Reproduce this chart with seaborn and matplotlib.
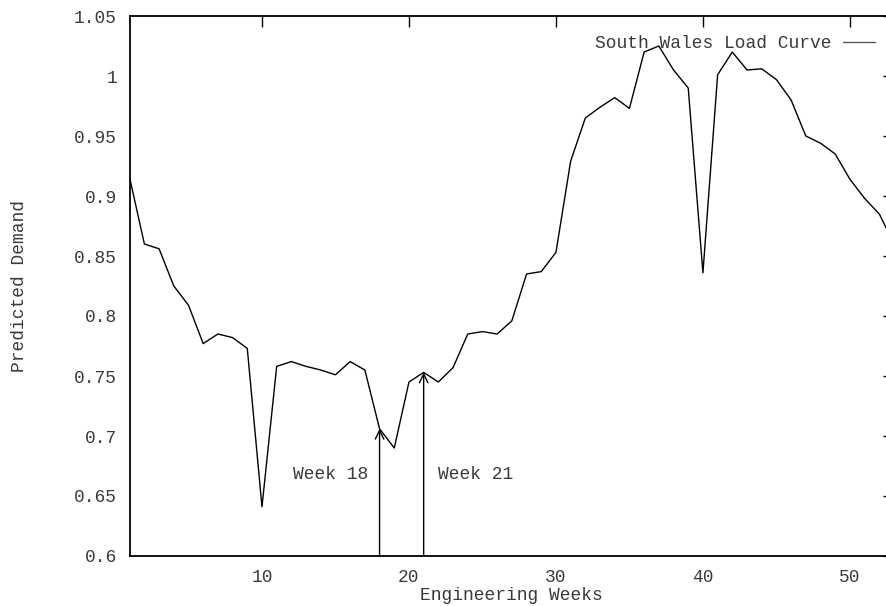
import numpy as np
import pandas as pd
import matplotlib
matplotlib.use("Agg")
import matplotlib.pyplot as plt
import seaborn as sns

# weekly predicted demand (normalised)
weeks = list(range(1, 54))
demand = [0.915, 0.860, 0.856, 0.825, 0.809, 0.777, 0.785, 0.782, 0.773, 0.641,
          0.758, 0.762, 0.758, 0.755, 0.751, 0.762, 0.755, 0.706, 0.690, 0.745,
          0.753, 0.745, 0.757, 0.785, 0.787, 0.785, 0.796, 0.835, 0.837, 0.853,
          0.929, 0.965, 0.974, 0.982, 0.973, 1.020, 1.025, 1.005, 0.990, 0.836,
          1.001, 1.020, 1.005, 1.006, 0.997, 0.980, 0.950, 0.944, 0.935, 0.914,
          0.898, 0.885, 0.860]
series_name = "South Wales Load Curve"
marked_weeks = [18, 21]
x_ticks = [10, 20, 30, 40, 50]
y_ticks = [0.6, 0.65, 0.7, 0.75, 0.8, 0.85, 0.9, 0.95, 1.0, 1.05]
y_tick_labels = ["0.6", "0.65", "0.7", "0.75", "0.8", "0.85", "0.9", "0.95", "1", "1.05"]

df = pd.DataFrame({"week": weeks, "demand": demand, "series": series_name})

sns.set_style("white")
plt.rcParams["font.family"] = ["Liberation Mono", "DejaVu Sans Mono"]
txt_col = "#3a3a3a"
fs = 12.9

W, H = 887, 606
fig = plt.figure(figsize=(W / 100, H / 100), dpi=100)
# gnuplot-like frame; right border runs just past the image edge
left, right, top, bottom = 129.7, 894.0, 16.0, 556.0
ax = fig.add_axes([left / W, (H - bottom) / H, (right - left) / W, (bottom - top) / H])

sns.lineplot(data=df, x="week", y="demand", hue="series", palette=["black"],
             linewidth=1.0, ax=ax)

ax.set_xlim(1, 53)
ax.set_ylim(0.6, 1.05)
ax.set_xticks(x_ticks)
ax.set_xticklabels([str(t) for t in x_ticks])
ax.set_yticks(y_ticks)
ax.set_yticklabels(y_tick_labels)
ax.tick_params(direction="in", length=8, width=1.0, top=True, right=True,
               labelsize=fs, labelcolor=txt_col, color="black")
ax.tick_params(axis="y", pad=9)
ax.tick_params(axis="x", pad=9)
for sp in ax.spines.values():
    sp.set_color("black")
    sp.set_linewidth(1.3)

ax.set_xlabel("Engineering Weeks", fontsize=fs, color=txt_col)
ax.set_ylabel("Predicted Demand", fontsize=fs, color=txt_col)
ax.xaxis.set_label_coords(0.5, -0.057)
ax.yaxis.set_label_coords(-0.133, 0.5)

# arrows from the axis up to the marked weeks
for wk in marked_weeks:
    ax.annotate("", xy=(wk, demand[wk - 1]), xytext=(wk, 0.6),
                arrowprops=dict(arrowstyle="->,head_length=0.45,head_width=0.22",
                                color="black", lw=1.0, shrinkA=0, shrinkB=0,
                                mutation_scale=14))
ax.text(17.2, 0.668, "Week 18", ha="right", va="center", fontsize=fs, color=txt_col)
ax.text(22.0, 0.668, "Week 21", ha="left", va="center", fontsize=fs, color=txt_col)

handles, labels = ax.get_legend_handles_labels()
leg = ax.legend(handles, labels, loc="center right",
                bbox_to_anchor=(0.9752, 1 - (44 - top) / (bottom - top)),
                frameon=False, markerfirst=False, borderpad=0, borderaxespad=0,
                handlelength=1.8, handletextpad=0.62, fontsize=fs)
for t in leg.get_texts():
    t.set_color(txt_col)
for l in leg.get_lines():
    l.set_color("#555555")

fig.savefig("out.png", dpi=100)
